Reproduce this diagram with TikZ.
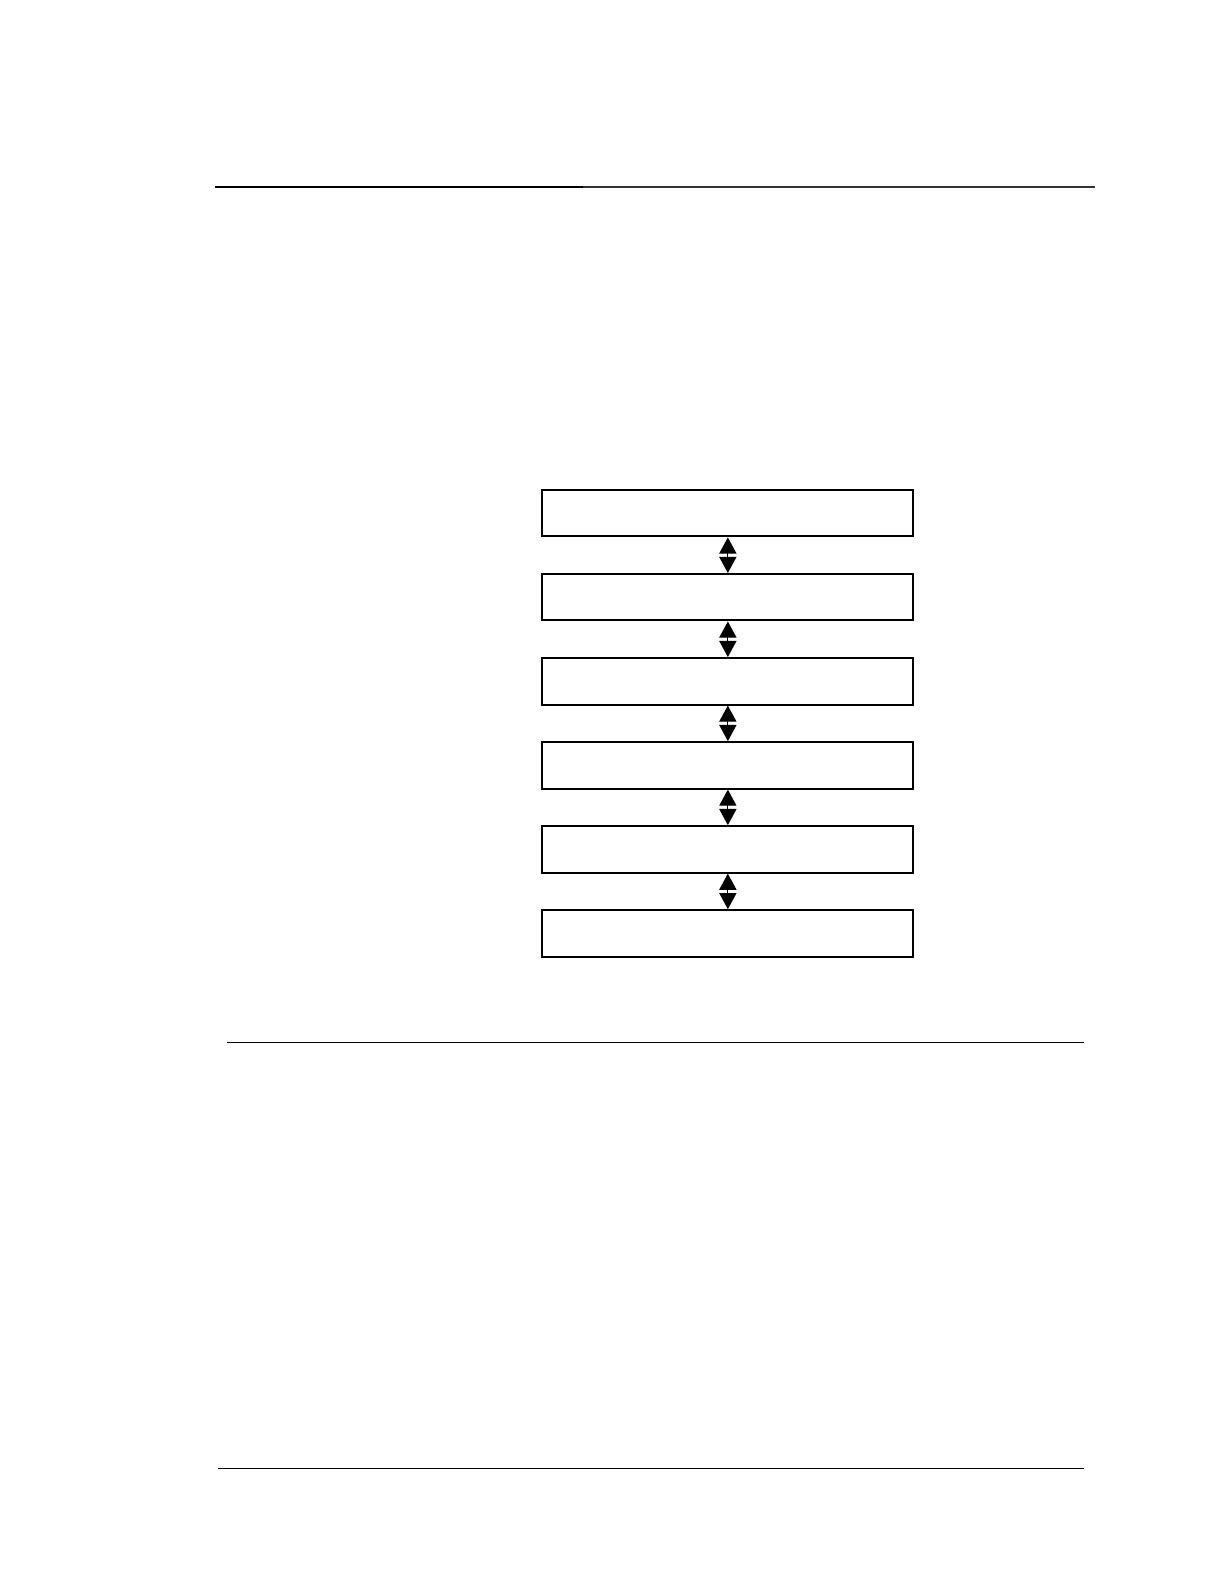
\documentclass[tikz,border=0pt]{standalone}
\usetikzlibrary{positioning,arrows.meta}

\begin{document}
\begin{tikzpicture} [x=1pt, y=1pt,
	layer/.style = {draw, line width = 1pt, minimum width = 183.5pt,
		minimum height = 23pt, inner sep = 0pt},
	link/.style = {{Triangle[length=8pt,width=8.5pt]}-{Triangle[length=8pt,width=8.5pt]},
		line width = .6pt},
	node distance = 17.6pt]
\useasboundingbox (0,0) rectangle (606,-784);

% rules of the page:
\draw [line width = 1pt] (106.5,-92.5) coordinate (T1) -- (288.5,-92.5) coordinate (T2);
\draw [line width = .7pt, black!80] (T2) -- (542,-92.5);
\draw [line width = .6pt] (112.5,-516) -- (536.5,-516);
\draw [line width = .6pt] (108,-727) -- (536.5,-727);

% stack of boxes:
\node [layer] (box1) at (360.25,-254) {};
\node [layer, below = of box1] (box2) {};
\node [layer, below = of box2] (box3) {};
\node [layer, below = of box3] (box4) {};
\node [layer, below = of box4] (box5) {};
\node [layer, below = of box5] (box6) {};

% arrows between them:
\foreach \a/\b in {1/2,2/3,3/4,4/5,5/6}
	\draw [link] (box\a.south) -- (box\b.north);

\end{tikzpicture}
\end{document}
